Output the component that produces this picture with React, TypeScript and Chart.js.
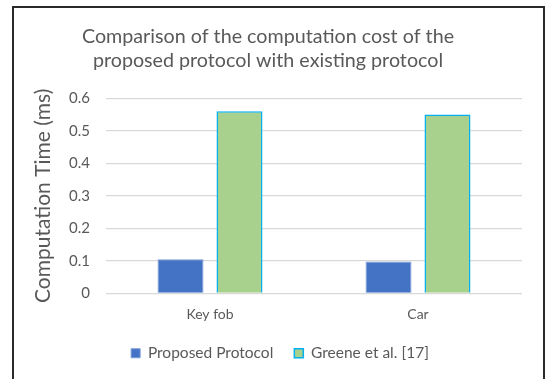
import React, { useEffect, useRef } from "react";
import { Chart, registerables } from "chart.js";

Chart.register(...registerables);

const categories = ["Key fob", "Car"];
const proposedValues = [0.105, 0.098];
const greeneValues = [0.56, 0.55];
const seriesNames = ["Proposed Protocol", "Greene et al. [17]"];
const titleLines = ["Comparison of the computation cost of the", "proposed protocol with existing protocol"];
const yAxisTitle = "Computation Time (ms)";

const FONT = "Lato, 'Liberation Sans', sans-serif";
const TEXT = "#595959";

const shiftBlocks = {
  id: "shiftBlocks",
  afterLayout(chart: any) {
    const t = chart.titleBlock;
    if (t) {
      t.left -= 6;
      t.right -= 6;
    }
    const l = chart.legend;
    if (l) {
      l.left += 6;
      l.right += 6;
    }
  },
};

export default function App() {
  const ref = useRef<HTMLCanvasElement | null>(null);

  useEffect(() => {
    if (!ref.current) return;
    const chart = new Chart(ref.current, {
      type: "bar",
      data: {
        labels: categories,
        datasets: [
          {
            label: seriesNames[0],
            data: proposedValues,
            backgroundColor: "#4472C4",
            borderColor: "#7A9BD6",
            borderWidth: 1,
            barPercentage: 0.78,
            categoryPercentage: 0.567,
          },
          {
            label: seriesNames[1],
            data: greeneValues,
            backgroundColor: "#A9D18E",
            borderColor: "#00B0F0",
            borderWidth: 1.5,
            barPercentage: 0.78,
            categoryPercentage: 0.567,
          },
        ],
      },
      plugins: [shiftBlocks],
      options: {
        animation: false,
        responsive: false,
        maintainAspectRatio: false,
        layout: { padding: { left: 12, right: 21, top: 0, bottom: 10 } },
        plugins: {
          title: {
            display: true,
            text: titleLines,
            color: TEXT,
            font: { family: FONT, size: 19.7, weight: "normal", lineHeight: 1.25 },
            padding: { top: 16, bottom: 25 },
          },
          legend: {
            position: "bottom",
            labels: {
              color: TEXT,
              font: { family: FONT, size: 15.5 },
              boxWidth: 9,
              boxHeight: 9,
              padding: 21,
            },
          },
          tooltip: { enabled: false },
        },
        scales: {
          x: {
            grid: { display: false, drawTicks: false },
            border: { display: false },
            ticks: { color: TEXT, font: { family: FONT, size: 14 }, padding: 13 },
            afterFit: (s: any) => {
              s.height = 31;
            },
          },
          y: {
            min: 0,
            max: 0.6,
            ticks: {
              stepSize: 0.1,
              color: TEXT,
              font: { family: FONT, size: 15 },
              padding: 16,
              callback: (v: any) => String(Math.round(Number(v) * 10) / 10),
            },
            grid: { color: "#D9D9D9", drawTicks: false, lineWidth: 1.3 },
            border: { display: false },
            title: {
              display: true,
              text: yAxisTitle,
              color: TEXT,
              font: { family: FONT, size: 21, weight: "normal" },
              padding: { top: 5, bottom: 12 },
            },
            afterFit: (s: any) => {
              s.width = 80;
            },
          },
        },
      },
    });
    return () => chart.destroy();
  }, []);

  return (
    <div
      style={{
        position: "fixed",
        left: 12,
        top: 6,
        width: 529,
        height: 380,
        border: "2px solid #2a2a2a",
        borderBottom: "none",
        background: "#fff",
      }}
    >
      <canvas ref={ref} width={529} height={373} style={{ display: "block" }} />
    </div>
  );
}
